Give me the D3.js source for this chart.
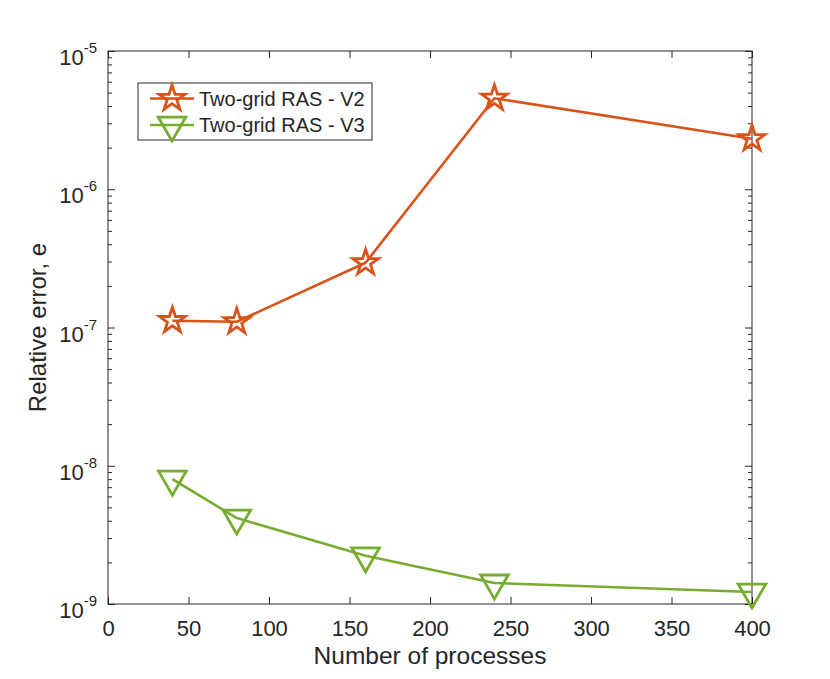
<!DOCTYPE html>
<html>
<head>
<meta charset="utf-8">
<script src="https://cdn.jsdelivr.net/npm/d3@7"></script>
<style>
  body { margin: 0; background: #fff; }
  text { font-family: "Liberation Sans", Arial, sans-serif; fill: #262626; }
</style>
</head>
<body>
<div id="chart"></div>
<script>
// values
const procs = [40, 80, 160, 240, 400];
const errV2 = [1.12e-7, 1.10e-7, 2.94e-7, 4.55e-6, 2.32e-6];
const errV3 = [8.0e-9, 4.18e-9, 2.23e-9, 1.42e-9, 1.22e-9];
const seriesNames = ["Two-grid RAS - V2", "Two-grid RAS - V3"];
const xTicks = [0, 50, 100, 150, 200, 250, 300, 350, 400];
const yExps = [-9, -8, -7, -6, -5];

const W = 830, H = 679;
const margin = {top: 51, right: 78, bottom: 75, left: 108},
  width = W - margin.left - margin.right,
  height = H - margin.top - margin.bottom;

const orange = "#D95319", green = "#77AC30", axisCol = "#262626";

const svg = d3.select("#chart")
  .append("svg")
  .attr("width", W)
  .attr("height", H)
  .append("g")
  .attr("transform", `translate(${margin.left},${margin.top})`);

// scales
const x = d3.scaleLinear().domain([0, 400]).range([0, width]);
const y = d3.scaleLog().domain([1e-9, 1e-5]).range([height, 0]);

const majors = yExps.map(e => Math.pow(10, e));
const minors = y.ticks().filter(v => !majors.some(m => Math.abs(v - m) / m < 1e-6));

// box
svg.append("rect")
  .attr("width", width).attr("height", height)
  .attr("fill", "none").attr("stroke", axisCol).attr("stroke-width", 1);

function styleAxis(g) {
  g.select(".domain").remove();
  g.selectAll(".tick line").attr("stroke", axisCol).attr("stroke-width", 1);
}

// x axes (bottom with labels, top ticks only)
const xb = svg.append("g")
  .attr("transform", `translate(0,${height})`)
  .call(d3.axisBottom(x).tickValues(xTicks).tickSize(-7).tickPadding(16));
styleAxis(xb);
xb.selectAll("text").attr("font-size", 22).attr("fill", axisCol)
  .style("font-family", "'Liberation Sans', Arial, sans-serif");

svg.append("g")
  .call(d3.axisTop(x).tickValues(xTicks).tickSize(-7).tickFormat(""))
  .call(styleAxis);

// y axes: major + minor, left and right
svg.append("g").call(d3.axisLeft(y).tickValues(majors).tickSize(-7).tickFormat("")).call(styleAxis);
svg.append("g").call(d3.axisLeft(y).tickValues(minors).tickSize(-4).tickFormat("")).call(styleAxis);
svg.append("g").attr("transform", `translate(${width},0)`)
  .call(d3.axisRight(y).tickValues(majors).tickSize(-7).tickFormat("")).call(styleAxis);
svg.append("g").attr("transform", `translate(${width},0)`)
  .call(d3.axisRight(y).tickValues(minors).tickSize(-4).tickFormat("")).call(styleAxis);

// y tick labels 10^e
const ylab = svg.selectAll(".ylab")
  .data(yExps)
  .join("text")
  .attr("class", "ylab")
  .attr("x", -11)
  .attr("y", d => y(Math.pow(10, d)) + 14)
  .attr("text-anchor", "end")
  .attr("font-size", 22);
ylab.append("tspan").text("10");
ylab.append("tspan").attr("font-size", 15).attr("dy", -12).text(d => String(d));

// axis titles
svg.append("text")
  .attr("x", width / 2)
  .attr("y", height + 60)
  .attr("text-anchor", "middle")
  .attr("font-size", 24.5)
  .text("Number of processes");

svg.append("text")
  .attr("transform", `translate(${38 - margin.left + 8},${y(Math.pow(10, -7))}) rotate(-90)`)
  .attr("text-anchor", "middle")
  .attr("font-size", 24)
  .text("Relative error, e");

// markers
const starSym = d3.symbol(d3.symbolStar, 13.5 * 13.5 / 0.8908130915292852);
const triSym = d3.symbol(d3.symbolTriangle, 330);

const series = [
  {name: seriesNames[0], vals: errV2, color: orange, sym: starSym, rot: 0},
  {name: seriesNames[1], vals: errV3, color: green, sym: triSym, rot: 180}
];

const line = d3.line()
  .x(d => x(d[0]))
  .y(d => y(d[1]));

series.forEach(s => {
  const pts = procs.map((p, i) => [p, s.vals[i]]);
  svg.append("path")
    .datum(pts)
    .attr("d", line)
    .attr("fill", "none")
    .attr("stroke", s.color)
    .attr("stroke-width", 2.6)
    .attr("stroke-linejoin", "round");
  svg.selectAll(null)
    .data(pts)
    .join("path")
    .attr("d", s.sym)
    .attr("transform", d => `translate(${x(d[0])},${y(d[1])}) rotate(${s.rot})`)
    .attr("fill", "none")
    .attr("stroke", s.color)
    .attr("stroke-width", 2.8);
});

// legend
const leg = svg.append("g")
  .attr("transform", `translate(${138 - margin.left},${83 - margin.top})`);
leg.append("rect")
  .attr("width", 234).attr("height", 57)
  .attr("fill", "#fff").attr("stroke", axisCol).attr("stroke-width", 1);
series.forEach((s, i) => {
  const cy = 15.5 + i * 26.5;
  leg.append("line")
    .attr("x1", 12).attr("x2", 56)
    .attr("y1", cy).attr("y2", cy)
    .attr("stroke", s.color).attr("stroke-width", 2.6);
  leg.append("path")
    .attr("d", s.sym)
    .attr("transform", `translate(34,${cy}) rotate(${s.rot})`)
    .attr("fill", "none")
    .attr("stroke", s.color)
    .attr("stroke-width", 2.8);
  leg.append("text")
    .attr("x", 61)
    .attr("y", cy + 7)
    .attr("font-size", 20)
    .text(s.name);
});
</script>
</body>
</html>
